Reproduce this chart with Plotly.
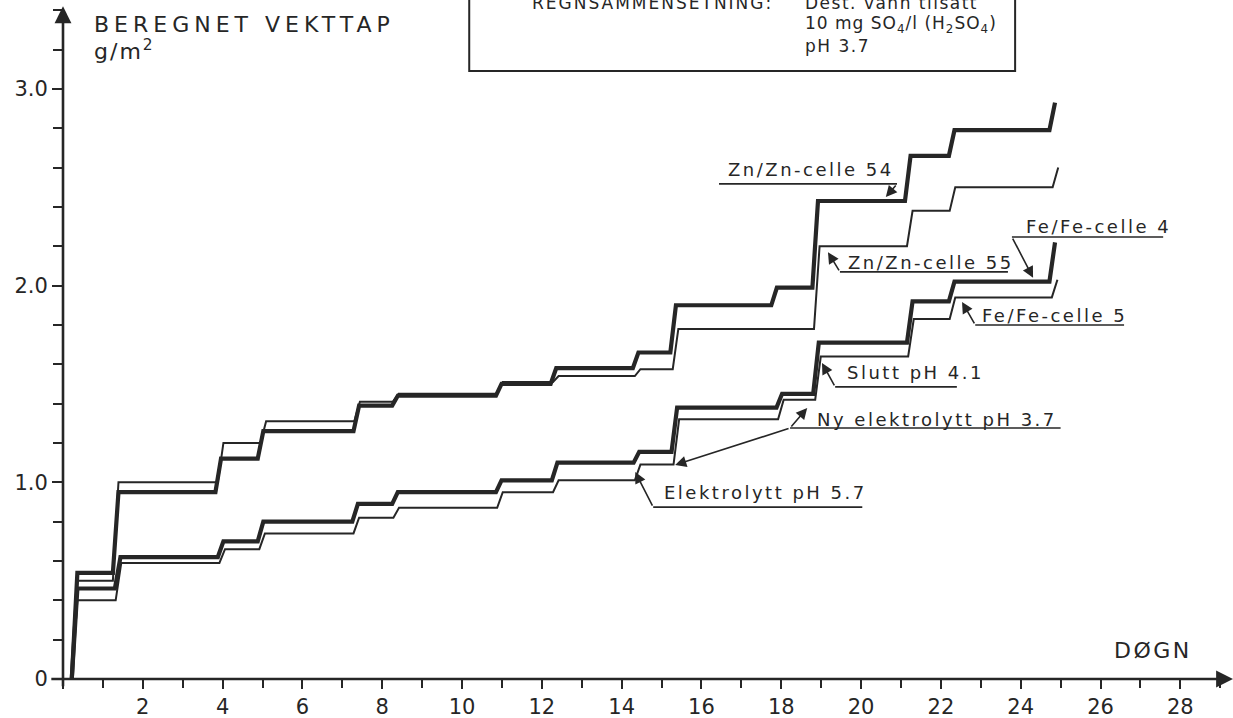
import plotly.graph_objects as go

# ---------------- data ----------------
# day at which each new level starts, and the level (g/m2) reached
zn54_days = [0.22, 1.25, 3.82, 4.88, 7.28, 8.25, 10.85, 12.22, 14.28, 15.22, 17.75, 18.78, 21.10, 22.20, 24.72]
zn54_vals = [0.54, 0.95, 1.12, 1.26, 1.39, 1.44, 1.50, 1.58, 1.66, 1.90, 1.99, 2.43, 2.66, 2.79, 2.93]

zn55_days = [0.22, 1.25, 3.88, 4.95, 7.30, 8.27, 10.88, 12.28, 14.33, 15.28, 18.82, 21.15, 22.22, 24.80]
zn55_vals = [0.50, 1.00, 1.20, 1.31, 1.41, 1.45, 1.51, 1.54, 1.575, 1.78, 2.20, 2.38, 2.50, 2.60]

fe4_days = [0.22, 1.30, 3.88, 4.88, 7.25, 8.25, 10.85, 12.25, 14.30, 15.25, 17.88, 18.80, 21.15, 22.20, 24.72]
fe4_vals = [0.46, 0.62, 0.70, 0.80, 0.89, 0.95, 1.01, 1.10, 1.155, 1.38, 1.45, 1.71, 1.92, 2.02, 2.22]

fe5_days = [0.22, 1.32, 3.92, 4.92, 7.28, 8.28, 10.88, 12.28, 14.33, 15.30, 17.92, 18.85, 21.18, 22.22, 24.78]
fe5_vals = [0.40, 0.59, 0.66, 0.74, 0.82, 0.87, 0.95, 1.01, 1.09, 1.32, 1.42, 1.64, 1.83, 1.94, 2.03]

x_tick_vals = [0, 2, 4, 6, 8, 10, 12, 14, 16, 18, 20, 22, 24, 26, 28]
x_tick_text = ["", "2", "4", "6", "8", "10", "12", "14", "16", "18", "20", "22", "24", "26", "28"]
y_tick_vals = [0, 1, 2, 3]
y_tick_text = ["0", "1.0", "2.0", "3.0"]

INK = "#262626"
FONT = "DejaVu Sans"
RISE = 0.14  # drawn slant of each step (days)


def spaced(s, px):
    return f'<span style="letter-spacing:{px}px">{s}</span>'


def step_path(days, vals):
    xs, ys = [days[0]], [0.0]
    for i, (d, v) in enumerate(zip(days, vals)):
        if i > 0:
            xs.append(d)
            ys.append(vals[i - 1])
        xs.append(d + RISE)
        ys.append(v)
    return xs, ys


fig = go.Figure()
series = [
    (zn55_days, zn55_vals, 2.0),
    (fe5_days, fe5_vals, 2.0),
    (zn54_days, zn54_vals, 4.2),
    (fe4_days, fe4_vals, 4.2),
]
for d, v, w in series:
    xs, ys = step_path(d, v)
    fig.add_trace(go.Scatter(x=xs, y=ys, mode="lines",
                             line=dict(color=INK, width=w), hoverinfo="skip"))

shapes = []
annotations = []


def seg(x0, y0, x1, y1, w=1.6):
    shapes.append(dict(type="line", xref="x", yref="y", x0=x0, y0=y0, x1=x1, y1=y1,
                       line=dict(color=INK, width=w)))


def arrow(xh, yh, xt, yt, w=1.6, head=2, size=1.4):
    annotations.append(dict(x=xh, y=yh, ax=xt, ay=yt, xref="x", yref="y", axref="x", ayref="y",
                            text="", showarrow=True, arrowhead=head, arrowsize=size,
                            arrowwidth=w, arrowcolor=INK, standoff=0, startstandoff=0))


def label(txt, x, y, size=18, sp=2.5, anchor="left"):
    annotations.append(dict(x=x, y=y, xref="x", yref="y", text=spaced(txt, sp), showarrow=False,
                            xanchor=anchor, yanchor="middle",
                            font=dict(family=FONT, size=size, color=INK)))


# axes with arrow heads
arrow(0, 3.42, 0, -0.045, w=2.6, head=2, size=1.3)
arrow(29.32, 0, -0.33, 0, w=2.6, head=2, size=1.3)

# curve labels with leader lines
label("Zn/Zn-celle 54", 16.62, 2.59)
seg(16.44, 2.517, 20.90, 2.517)
arrow(20.62, 2.45, 20.90, 2.517)

label("Zn/Zn-celle 55", 19.62, 2.12)
seg(19.47, 2.07, 23.68, 2.07)
arrow(19.17, 2.17, 19.47, 2.07)

label("Fe/Fe-celle 4", 24.08, 2.30)
seg(23.78, 2.247, 27.57, 2.247)
arrow(24.31, 2.04, 23.78, 2.247)

label("Fe/Fe-celle 5", 22.98, 1.85)
seg(22.86, 1.80, 26.59, 1.80)
arrow(22.53, 1.917, 22.86, 1.80)

label("Slutt pH 4.1", 19.60, 1.556)
seg(19.35, 1.485, 22.40, 1.485)
arrow(19.02, 1.607, 19.35, 1.485)

label("Ny elektrolytt pH 3.7", 18.85, 1.317)
seg(18.22, 1.276, 25.00, 1.276)
arrow(18.65, 1.378, 18.22, 1.276)
arrow(15.34, 1.088, 18.22, 1.276)

label("Elektrolytt pH 5.7", 15.01, 0.946)
seg(14.79, 0.874, 20.03, 0.874)
arrow(14.34, 1.052, 14.79, 0.874)

# axis titles
label("BEREGNET VEKTTAP", 0.73, 3.325, size=22, sp=5)
label("g/m<sup>2</sup>", 0.73, 3.198, size=22, sp=2)
label("DØGN", 26.30, 0.147, size=22, sp=2.5)

# description box (top edge runs off the page)
shapes.append(dict(type="rect", xref="x", yref="y", x0=10.18, x1=23.86, y0=3.091, y1=3.70,
                   line=dict(color=INK, width=2)))
label("REGNSAMMENSETNING:", 17.84, 3.437, size=17, sp=2, anchor="right")
label("Dest. vann tilsatt", 18.55, 3.437, size=17, sp=1.5)
label("10 mg SO<sub>4</sub>/l (H<sub>2</sub>SO<sub>4</sub>)", 18.55, 3.33, size=17, sp=1)
label("pH 3.7", 18.55, 3.218, size=17, sp=1.5)

fig.update_layout(
    width=1233, height=718,
    margin=dict(l=63, r=0, t=0, b=39, autoexpand=False),
    paper_bgcolor="white", plot_bgcolor="white",
    showlegend=False,
    font=dict(family=FONT, color=INK),
    shapes=shapes, annotations=annotations,
)
fig.update_xaxes(range=[0, 29.32], showgrid=False, zeroline=False, showline=False,
                 tickmode="array", tickvals=x_tick_vals, ticktext=x_tick_text,
                 ticks="outside", ticklen=9, tickwidth=2, tickcolor=INK,
                 tickfont=dict(family=FONT, size=21, color=INK), automargin=False,
                 minor=dict(dtick=1, tick0=0, ticks="outside", ticklen=8, tickwidth=2, tickcolor=INK))
fig.update_yaxes(range=[0, 3.452], showgrid=False, zeroline=False, showline=False,
                 tickmode="array", tickvals=y_tick_vals, ticktext=y_tick_text,
                 ticks="outside", ticklen=10, tickwidth=2, tickcolor=INK,
                 tickfont=dict(family=FONT, size=21, color=INK), automargin=False,
                 minor=dict(dtick=0.2, tick0=0, ticks="outside", ticklen=9, tickwidth=2, tickcolor=INK))

fig.write_html("out.html")
